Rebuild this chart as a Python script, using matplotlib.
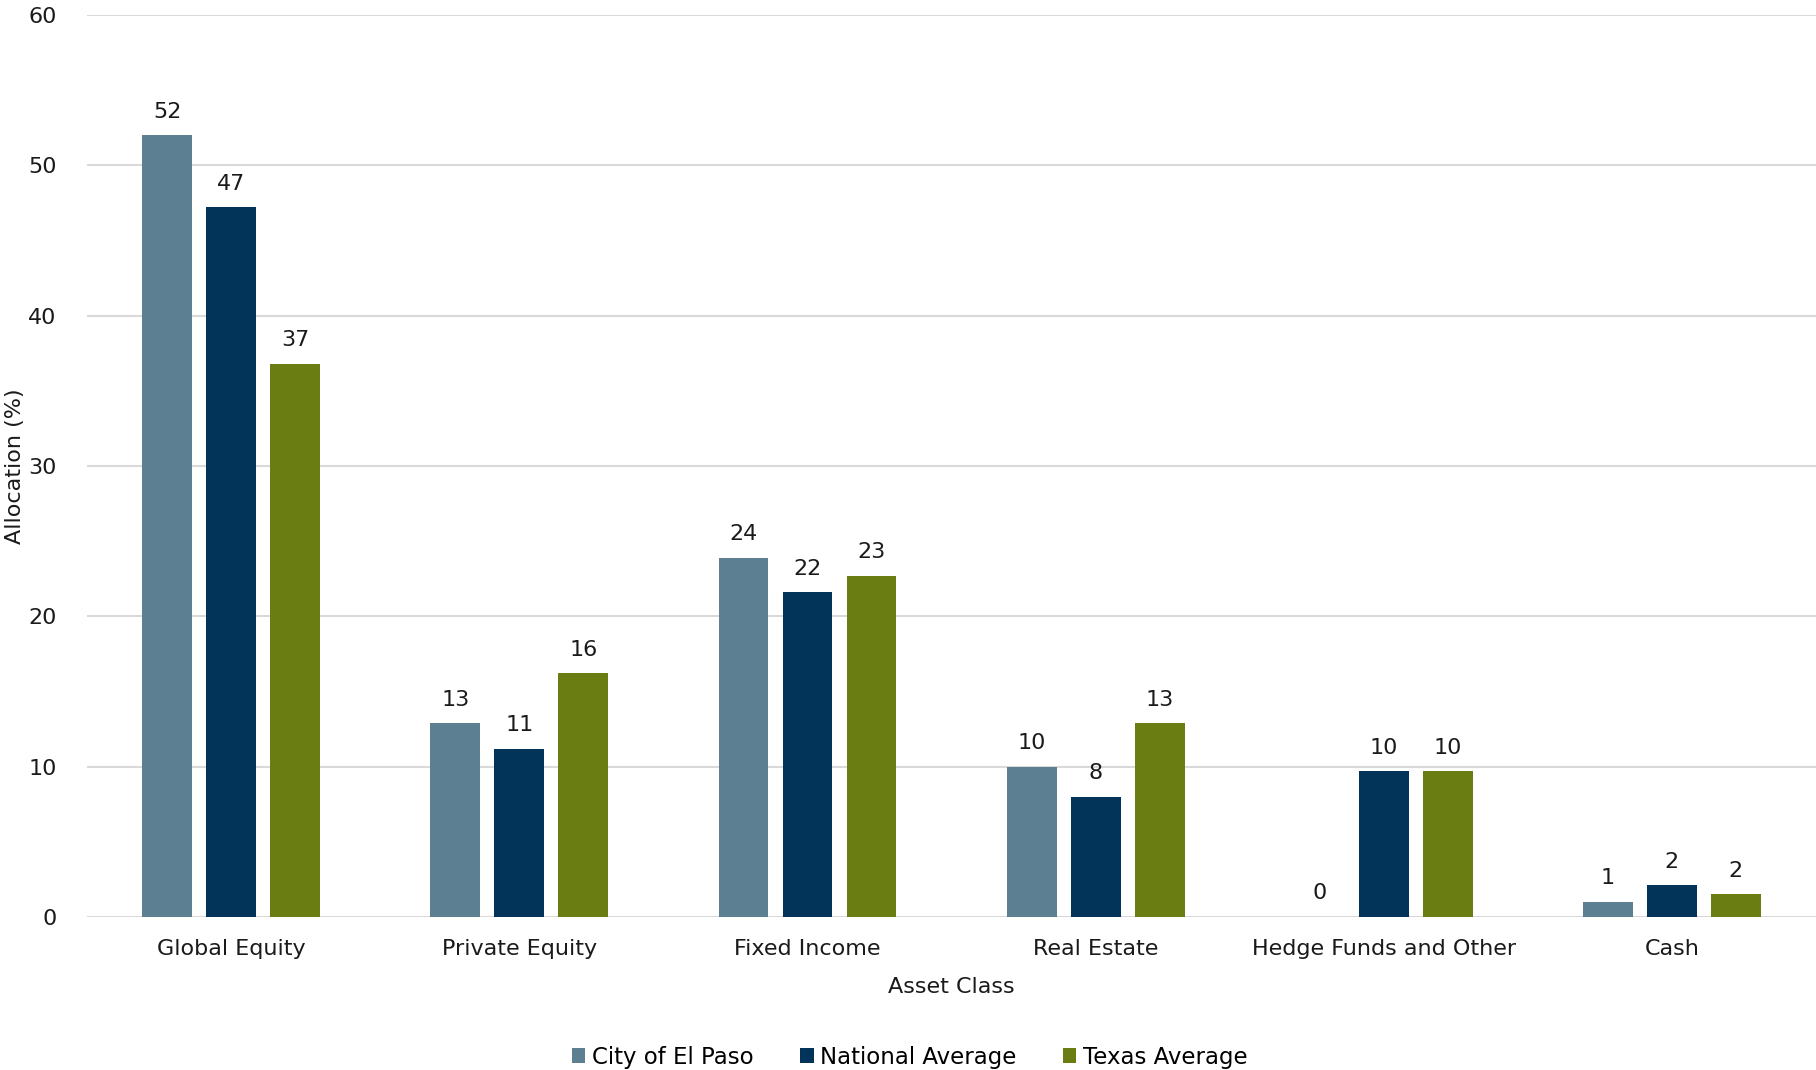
import matplotlib.pyplot as plt
import numpy as np

plt.rcParams['font.family'] = ['DejaVu Sans']

categories = ["Global Equity", "Private Equity", "Fixed Income", "Real Estate",
              "Hedge Funds and Other", "Cash"]
el_paso = [52.0, 12.9, 23.9, 10.0, 0.0, 1.0]
national = [47.2, 11.2, 21.6, 8.0, 9.7, 2.1]
texas = [36.8, 16.2, 22.7, 12.9, 9.7, 1.5]
series_names = ["City of El Paso", "National Average", "Texas Average"]
colors = ["#5C7F92", "#02345A", "#6A7D12"]

FS = 16
fig = plt.figure(figsize=(18.16, 10.7), dpi=100)
ax = fig.add_axes([0.048, 0.143, 0.952, 0.843])

x = np.arange(len(categories))
step = 0.222
width = 0.173
for i, (vals, name, c) in enumerate(zip([el_paso, national, texas], series_names, colors)):
    pos = x + (i - 1) * step
    ax.bar(pos, vals, width=width, color=c, label=name, zorder=3)
    for px, v in zip(pos, vals):
        ax.text(px, v + 0.9, f"{v:.0f}", ha="center", va="bottom",
                fontsize=FS, color="#1a1a1a")

ax.set_xlim(-0.5, len(categories) - 0.5)
ax.set_ylim(0, 60)
ax.set_yticks(range(0, 61, 10))
ax.yaxis.grid(True, color="#d9d9d9", linewidth=1.5, zorder=0)
ax.set_axisbelow(True)
for s in ["top", "right", "left", "bottom"]:
    ax.spines[s].set_visible(False)
ax.tick_params(axis="both", length=0, labelsize=FS, colors="#1a1a1a")
ax.tick_params(axis="y", pad=22)
ax.tick_params(axis="x", pad=16)
ax.set_xticks(x)
ax.set_xticklabels(categories)
ax.set_xlabel("Asset Class", fontsize=FS, color="#1a1a1a", labelpad=13)
ax.set_ylabel("Allocation (%)", fontsize=FS, color="#1a1a1a")
ax.yaxis.set_label_coords(-0.036, 0.5)

leg = ax.legend(loc="lower center", ncol=3, frameon=False,
                fontsize=FS + 0.5, handlelength=0.6, handleheight=0.6, handletextpad=0.3,
                columnspacing=2.0)
leg.set_bbox_to_anchor((0.501, -0.018), transform=fig.transFigure)

fig.savefig("out.png", dpi=100)
